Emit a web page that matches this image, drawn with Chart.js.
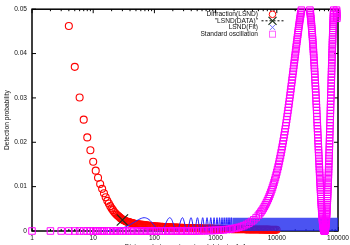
<!DOCTYPE html>
<html>
<head>
<meta charset="utf-8">
<script src="https://cdn.jsdelivr.net/npm/chart.js@4/dist/chart.umd.min.js"></script>
<style>
  html, body { margin: 0; padding: 0; background: #fff; }
</style>
</head>
<body>
<canvas id="chart" width="350" height="245"></canvas>
<script>
// Legend titles, in plot order
const seriesLabels = ["Diffraction(LSND)", "\"LSND(DATA)\"", "LSND(Fit)", "Standard oscillation"];

// Axis ticks
const xTicks = [1, 10, 100, 1000, 10000, 100000];
const yTicks = [0, 0.01, 0.02, 0.03, 0.04, 0.05];

// Diffraction(LSND) - red circles
const diffDist = [4, 5, 6, 7, 8, 9, 10, 11, 12, 13,
	14, 15, 16, 17, 18, 19, 20, 21, 22, 23,
	24, 25, 26, 27, 28, 29, 30, 31, 32, 33,
	34, 35, 36, 37, 38, 39, 40, 42, 44, 46,
	48, 50, 52, 54, 56, 58, 60, 63, 66, 69,
	72, 75, 78, 81, 84, 87, 90, 93, 96, 99,
	104, 109, 114, 119, 125, 131, 137, 143, 150, 157,
	164, 171, 179, 187, 195, 204, 213, 222, 232, 243,
	255, 268, 281, 295, 310, 325, 341, 358, 376, 395,
	415, 436, 458, 481, 505, 530, 557, 585, 614, 645,
	677, 711, 747, 784, 823, 864, 907, 952, 1000, 1050,
	1103, 1158, 1216, 1277, 1341, 1408, 1478, 1552, 1630, 1711,
	1797, 1887, 1981, 2080, 2184, 2293, 2408, 2528, 2655, 2787,
	2927, 3073, 3227, 3388, 3557, 3735, 3922, 4118, 4324, 4540,
	4767, 5006, 5256, 5519, 5795, 6085, 6389, 6708, 7044, 7396,
	7766, 8154, 8562, 8990, 9440, 9912];
const diffProb = [0.0462, 0.0370, 0.0301, 0.0251, 0.0211, 0.0182, 0.0156, 0.0136, 0.0120, 0.0106,
	0.0095, 0.0085, 0.0076, 0.0068, 0.0062, 0.0056, 0.0051, 0.0047, 0.0043, 0.0040,
	0.0037, 0.0035, 0.0033, 0.0031, 0.0029, 0.00275, 0.0026, 0.00248, 0.0024, 0.0023,
	0.0022, 0.00215, 0.0021, 0.00205, 0.0020, 0.00195, 0.0019, 0.00183, 0.00177, 0.0017,
	0.00164, 0.00158, 0.00155, 0.00151, 0.00148, 0.00145, 0.00143, 0.0014, 0.00137, 0.00133,
	0.0013, 0.00127, 0.00124, 0.0012, 0.00118, 0.00115, 0.00112, 0.0011, 0.00108, 0.00106,
	0.00104, 0.00102, 0.001, 0.00098, 0.00096, 0.00094, 0.00092, 0.0009, 0.00089, 0.00088,
	0.00087, 0.00085, 0.00084, 0.00083, 0.00082, 0.0008, 0.00079, 0.00077, 0.00076, 0.00075,
	0.00074, 0.00072, 0.00071, 0.0007, 0.00069, 0.00068, 0.00068, 0.00067, 0.00066, 0.00065,
	0.00065, 0.00064, 0.00063, 0.00062, 0.00061, 0.00061, 0.0006, 0.00059, 0.00058, 0.00058,
	0.00057, 0.00056, 0.00055, 0.00055, 0.00054, 0.00053, 0.00053, 0.00052, 0.00051, 0.0005,
	0.00049, 0.00049, 0.00048, 0.00047, 0.00046, 0.00046, 0.00045, 0.00045, 0.00044, 0.00043,
	0.00043, 0.00042, 0.00042, 0.00041, 0.00041, 0.0004, 0.0004, 0.00039, 0.00039, 0.00038,
	0.00038, 0.00037, 0.00037, 0.00036, 0.00036, 0.00035, 0.00035, 0.00034, 0.00034, 0.00034,
	0.00033, 0.00033, 0.00032, 0.00032, 0.00032, 0.00031, 0.00031, 0.0003, 0.0003, 0.0003,
	0.00029, 0.00029, 0.00029, 0.00028, 0.00028, 0.00028];

// "LSND(DATA)" - one cross
const lsndDist = [30];
const lsndProb = [0.00247];

// LSND(Fit) - resolved humps, then the dense band
const fitDist = [14, 27, 41, 55, 68, 82, 96, 110, 123, 137, 151, 164, 178, 192, 205, 219, 233,
	288, 342, 397, 452, 506, 561, 616, 671, 725, 780, 835, 890, 944, 999, 1054, 1109, 1163, 1218,
	1273, 1328, 1382, 1437, 1492, 1547, 1601, 1656, 1711, 1766, 1820, 1875];
const fitProb = [0, 0.00044, 0.0015, 0.00256, 0.003, 0.00256, 0.0015, 0.00044, 0, 0.00044, 0.0015, 0.00256,
	0.003, 0.00256, 0.0015, 0.00044, 0,
	0.003, 0, 0.003, 0, 0.003, 0, 0.003, 0, 0.003, 0, 0.003, 0, 0.003, 0, 0.003, 0, 0.003, 0,
	0.003, 0, 0.003, 0, 0.003, 0, 0.003, 0, 0.003, 0, 0.003, 0];
const fitBandDist = [1875, 100000];
const fitBandProb = [0.003, 0.003];

// Standard oscillation - magenta squares (only the part inside the frame)
const oscLowDist = [1, 2, 3, 4, 5, 6, 7, 8, 9, 10, 11, 12, 13, 14, 15, 17, 19, 21, 23, 25, 28, 31, 34, 38, 42,
	46, 51, 56, 62, 68, 75, 83, 91, 100, 110, 120, 135, 150, 165, 180, 200, 220, 240, 265, 290, 320, 350,
	385, 420, 460, 500, 550, 600, 660, 730, 800, 880, 960];
const oscLowProb = [0, 0, 0, 0, 0, 0, 0, 0, 0, 0, 0, 0, 0, 0, 0, 0, 0, 0, 0, 0, 0, 0, 0, 0, 0,
	0, 0, 0, 0, 0, 0, 0, 0, 0, 0, 0, 0, 0, 0, 0, 0, 0, 0, 0, 0, 0, 0,
	0, 0, 0, 0.00004, 0.00004, 0.00005, 0.00006, 0.00007, 0.0001, 0.00011, 0.00013];

const oscRiseDist = [1000, 1100, 1200, 1350, 1500, 1650, 1800, 2000, 2200, 2400,
	2650, 2900, 3200, 3500, 3850, 4200, 4600,
	5000, 5250, 5500, 5750, 6000, 6250, 6500, 6750, 7000, 7250,
	7500, 7750, 8000, 8250, 8500, 8750, 9000, 9250, 9500, 9750,
	10000, 10250, 10500, 10750, 11000, 11250, 11500, 11750, 12000, 12250,
	12500, 12750, 13000, 13250, 13500, 13750, 14000, 14250, 14500, 14750,
	15000, 15250, 15500, 15750, 16000, 16250, 16500, 16750, 17000, 17250,
	17500, 17750, 18000, 18250, 18500, 18750, 19000, 19250, 19500, 19750,
	20000, 20250, 20500, 20750, 21000, 21250, 21500, 21750, 22000, 22250,
	22500, 22750, 23000, 23250, 23500, 23750, 24000, 24250, 24500, 24750,
	25000, 25250];
const oscRiseProb = [0.00015, 0.00018, 0.00021, 0.00026, 0.00033, 0.00039, 0.00047, 0.00058, 0.0007, 0.00083,
	0.00101, 0.00121, 0.00147, 0.00176, 0.00213, 0.00252, 0.00302,
	0.00355, 0.0039, 0.00428, 0.00466, 0.00506, 0.00548, 0.00591, 0.00635, 0.00681, 0.00728,
	0.00776, 0.00826, 0.00877, 0.00929, 0.00982, 0.01037, 0.01092, 0.01149, 0.01207, 0.01265,
	0.01325, 0.01386, 0.01447, 0.01509, 0.01572, 0.01636, 0.017, 0.01765, 0.01831, 0.01897,
	0.01964, 0.02031, 0.02099, 0.02167, 0.02235, 0.02304, 0.02373, 0.02442, 0.02511, 0.02581,
	0.0265, 0.02719, 0.02789, 0.02858, 0.02927, 0.02996, 0.03065, 0.03133, 0.03201, 0.03269,
	0.03336, 0.03403, 0.03469, 0.03535, 0.036, 0.03664, 0.03728, 0.03791, 0.03853, 0.03915,
	0.03975, 0.04035, 0.04093, 0.04151, 0.04208, 0.04263, 0.04318, 0.04371, 0.04423, 0.04474,
	0.04524, 0.04572, 0.04619, 0.04665, 0.04709, 0.04752, 0.04794, 0.04834, 0.04873, 0.0491,
	0.04945, 0.04979];

const oscFallDist = [34750, 35000, 35250, 35500, 35750, 36000, 36250, 36500, 36750, 37000,
	37250, 37500, 37750, 38000, 38250, 38500, 38750, 39000, 39250, 39500,
	39750, 40000, 40250, 40500, 40750, 41000, 41250, 41500, 41750, 42000,
	42250, 42500, 42750, 43000, 43250, 43500, 43750, 44000, 44250, 44500,
	44750, 45000, 45250, 45500, 45750, 46000, 46250, 46500, 46750, 47000,
	47250, 47500, 47750, 48000, 48250, 48500, 48750, 49000, 49250, 49500,
	49750, 50000, 50250, 50500, 50750, 51000, 51250, 51500, 51750, 52000,
	52250, 52500, 52750, 53000, 53250, 53500, 53750, 54000, 54250, 54500,
	54750, 55000, 55250, 55500, 55750, 56000, 56250, 56500, 56750, 57000,
	57250, 57500, 57750, 58000, 58250, 58500, 58750, 59000, 59250, 59500,
	59750, 60000];
const oscFallProb = [0.04979, 0.04945, 0.0491, 0.04873, 0.04834, 0.04794, 0.04752, 0.04709, 0.04665, 0.04619,
	0.04572, 0.04524, 0.04474, 0.04423, 0.04371, 0.04318, 0.04263, 0.04208, 0.04151, 0.04093,
	0.04035, 0.03975, 0.03915, 0.03853, 0.03791, 0.03728, 0.03664, 0.036, 0.03535, 0.03469,
	0.03403, 0.03336, 0.03269, 0.03201, 0.03133, 0.03065, 0.02996, 0.02927, 0.02858, 0.02789,
	0.02719, 0.0265, 0.02581, 0.02511, 0.02442, 0.02373, 0.02304, 0.02235, 0.02167, 0.02099,
	0.02031, 0.01964, 0.01897, 0.01831, 0.01765, 0.017, 0.01636, 0.01572, 0.01509, 0.01447,
	0.01386, 0.01325, 0.01265, 0.01207, 0.01149, 0.01092, 0.01037, 0.00982, 0.00929, 0.00877,
	0.00826, 0.00776, 0.00728, 0.00681, 0.00635, 0.00591, 0.00548, 0.00506, 0.00466, 0.00428,
	0.0039, 0.00355, 0.00321, 0.00289, 0.00258, 0.00229, 0.00202, 0.00176, 0.00152, 0.0013,
	0.00109, 0.0009, 0.00073, 0.00058, 0.00044, 0.00033, 0.00023, 0.00015, 0.00008, 0.00004,
	0.00001, 0];

const oscRise2Dist = [60250, 60500, 60750, 61000, 61250, 61500, 61750, 62000, 62250, 62500,
	62750, 63000, 63250, 63500, 63750, 64000, 64250, 64500, 64750, 65000,
	65250, 65500, 65750, 66000, 66250, 66500, 66750, 67000, 67250, 67500,
	67750, 68000, 68250, 68500, 68750, 69000, 69250, 69500, 69750, 70000,
	70250, 70500, 70750, 71000, 71250, 71500, 71750, 72000, 72250, 72500,
	72750, 73000, 73250, 73500, 73750, 74000, 74250, 74500, 74750, 75000,
	75250, 75500, 75750, 76000, 76250, 76500, 76750, 77000, 77250, 77500,
	77750, 78000, 78250, 78500, 78750, 79000, 79250, 79500, 79750, 80000,
	80250, 80500, 80750, 81000, 81250, 81500, 81750, 82000, 82250, 82500,
	82750, 83000, 83250, 83500, 83750, 84000, 84250, 84500, 84750, 85000,
	85250, 94750, 95000, 95250, 95500, 95750, 96000];
const oscRise2Prob = [0.00001, 0.00004, 0.00008, 0.00015, 0.00023, 0.00033, 0.00044, 0.00058, 0.00073, 0.0009,
	0.00109, 0.0013, 0.00152, 0.00176, 0.00202, 0.00229, 0.00258, 0.00289, 0.00321, 0.00355,
	0.0039, 0.00428, 0.00466, 0.00506, 0.00548, 0.00591, 0.00635, 0.00681, 0.00728, 0.00776,
	0.00826, 0.00877, 0.00929, 0.00982, 0.01037, 0.01092, 0.01149, 0.01207, 0.01265, 0.01325,
	0.01386, 0.01447, 0.01509, 0.01572, 0.01636, 0.017, 0.01765, 0.01831, 0.01897, 0.01964,
	0.02031, 0.02099, 0.02167, 0.02235, 0.02304, 0.02373, 0.02442, 0.02511, 0.02581, 0.0265,
	0.02719, 0.02789, 0.02858, 0.02927, 0.02996, 0.03065, 0.03133, 0.03201, 0.03269, 0.03336,
	0.03403, 0.03469, 0.03535, 0.036, 0.03664, 0.03728, 0.03791, 0.03853, 0.03915, 0.03975,
	0.04035, 0.04093, 0.04151, 0.04208, 0.04263, 0.04318, 0.04371, 0.04423, 0.04474, 0.04524,
	0.04572, 0.04619, 0.04665, 0.04709, 0.04752, 0.04794, 0.04834, 0.04873, 0.0491, 0.04945,
	0.04979, 0.04979, 0.04945, 0.0491, 0.04873, 0.04834, 0.04794];

const FONT = { family: "'Liberation Sans', Arial, sans-serif", size: 6.6 };
const TEXT = "#111";

function toPoints(xs, ys) {
	return xs.map((x, i) => ({ x: x, y: ys[i] }));
}

const oscPoints = [].concat(
	toPoints(oscLowDist, oscLowProb),
	toPoints(oscRiseDist, oscRiseProb),
	toPoints(oscFallDist, oscFallProb),
	toPoints(oscRise2Dist, oscRise2Prob)
);

// minor log ticks 2..9 in every decade
const xMinorTicks = [];
xTicks.slice(0, -1).forEach(d => {
	for (let m = 2; m <= 9; m++) xMinorTicks.push(d * m);
});

// gnuplot style frame with inward ticks, and the legend
const framePlugin = {
	id: "frame",
	beforeDatasetsDraw(chart) {
		const { ctx, chartArea: a, scales } = chart;
		ctx.save();
		ctx.strokeStyle = "#000";
		ctx.lineWidth = 1;
		ctx.beginPath();
		xTicks.forEach(v => {
			const px = scales.x.getPixelForValue(v);
			ctx.moveTo(px, a.bottom); ctx.lineTo(px, a.bottom - 4);
			ctx.moveTo(px, a.top); ctx.lineTo(px, a.top + 4);
		});
		xMinorTicks.forEach(v => {
			const px = scales.x.getPixelForValue(v);
			ctx.moveTo(px, a.bottom); ctx.lineTo(px, a.bottom - 2);
			ctx.moveTo(px, a.top); ctx.lineTo(px, a.top + 2);
		});
		yTicks.forEach(v => {
			const py = scales.y.getPixelForValue(v);
			ctx.moveTo(a.left, py); ctx.lineTo(a.left + 4, py);
			ctx.moveTo(a.right, py); ctx.lineTo(a.right - 4, py);
		});
		ctx.stroke();
		ctx.lineWidth = 1.5;
		ctx.strokeRect(a.left, a.top, a.right - a.left, a.bottom - a.top);
		ctx.restore();
	},
	afterDraw(chart) {
		const { ctx, chartArea: a } = chart;
		const textX = a.right - 80;
		const symX = a.right - 65.5;
		const rows = [14.3, 20.8, 27.4, 34.2];
		ctx.save();
		ctx.font = FONT.size + "px " + FONT.family;
		ctx.fillStyle = TEXT;
		ctx.textAlign = "right";
		ctx.textBaseline = "middle";
		seriesLabels.forEach((t, i) => ctx.fillText(t, textX, rows[i]));

		ctx.lineWidth = 1;
		ctx.strokeStyle = "#ff0000";
		ctx.beginPath();
		ctx.arc(symX, rows[0], 3.3, 0, Math.PI * 2);
		ctx.stroke();

		ctx.strokeStyle = "#000";
		ctx.setLineDash([2, 2]);
		ctx.beginPath();
		ctx.moveTo(symX - 11, rows[1]); ctx.lineTo(symX + 11, rows[1]);
		ctx.stroke();
		ctx.setLineDash([]);
		ctx.strokeStyle = "#1a301a";
		ctx.lineWidth = 1.2;
		ctx.beginPath();
		ctx.moveTo(symX - 4, rows[1] - 4); ctx.lineTo(symX + 4, rows[1] + 4);
		ctx.moveTo(symX - 4, rows[1] + 4); ctx.lineTo(symX + 4, rows[1] - 4);
		ctx.stroke();

		ctx.strokeStyle = "#7070ff";
		ctx.lineWidth = 1;
		ctx.beginPath();
		ctx.moveTo(symX - 2.5, rows[2] - 2.5); ctx.lineTo(symX + 2.5, rows[2] + 2.5);
		ctx.moveTo(symX - 2.5, rows[2] + 2.5); ctx.lineTo(symX + 2.5, rows[2] - 2.5);
		ctx.stroke();

		ctx.strokeStyle = "#ff66ff";
		ctx.strokeRect(symX - 3, rows[3] - 3, 6, 6);
		ctx.restore();
	}
};

const ctx = document.getElementById("chart").getContext("2d");
const chart = new Chart(ctx, {
	type: "scatter",
	data: {
		datasets: [
			{
				label: seriesLabels[3],
				data: oscPoints,
				pointStyle: "rect",
				pointRadius: 4.6,
				borderColor: "#ff00ff",
				backgroundColor: "rgba(0,0,0,0)",
				borderWidth: 1,
				clip: false,
				order: 0
			},
			{
				label: seriesLabels[2],
				data: toPoints(fitDist, fitProb),
				showLine: true,
				cubicInterpolationMode: "monotone",
				borderColor: "#2222ff",
				borderWidth: 1,
				pointRadius: 0,
				order: 1
			},
			{
				label: "band",
				data: toPoints(fitBandDist, fitBandProb),
				showLine: true,
				fill: "origin",
				borderWidth: 0,
				borderColor: "rgba(0,0,0,0)",
				backgroundColor: "rgba(30,40,238,0.8)",
				pointRadius: 0,
				order: 1
			},
			{
				label: seriesLabels[1],
				data: toPoints(lsndDist, lsndProb),
				pointStyle: "crossRot",
				pointRadius: 8,
				borderColor: "#1a301a",
				borderWidth: 1.2,
				clip: false,
				order: 2
			},
			{
				label: seriesLabels[0],
				data: toPoints(diffDist, diffProb),
				pointStyle: "circle",
				pointRadius: 3.5,
				borderColor: "#ff0000",
				backgroundColor: "rgba(0,0,0,0)",
				borderWidth: 1.1,
				clip: false,
				order: 3
			}
		]
	},
	options: {
		responsive: false,
		animation: false,
		devicePixelRatio: 1,
		layout: { padding: { top: 8, right: 12, left: 0, bottom: 0 } },
		plugins: { legend: { display: false }, tooltip: { enabled: false } },
		scales: {
			x: {
				type: "logarithmic",
				min: 1,
				max: 100000,
				afterBuildTicks: s => { s.ticks = xTicks.map(v => ({ value: v })); },
				afterFit: s => { s.height = 14; s.paddingLeft = 0; s.paddingRight = 0; },
				ticks: { callback: v => String(v), font: FONT, color: TEXT, padding: 3, maxRotation: 0, autoSkip: false },
				grid: { display: false, drawTicks: false },
				border: { display: false },
				title: {
					display: true,
					text: "Distance between target and detector [m]",
					font: FONT,
					color: TEXT,
					padding: { top: 0, bottom: -6 }
				}
			},
			y: {
				type: "linear",
				min: 0,
				max: 0.05,
				afterBuildTicks: s => { s.ticks = yTicks.map(v => ({ value: v })); },
				afterFit: s => { s.width = 32; s.paddingTop = 0; s.paddingBottom = 0; },
				ticks: { callback: v => String(v), font: FONT, color: TEXT, padding: 5 },
				grid: { display: false, drawTicks: false },
				border: { display: false },
				title: {
					display: true,
					text: "Detection probability",
					font: FONT,
					color: TEXT,
					padding: { top: 3, bottom: 0 }
				}
			}
		}
	},
	plugins: [framePlugin]
});
</script>
</body>
</html>
